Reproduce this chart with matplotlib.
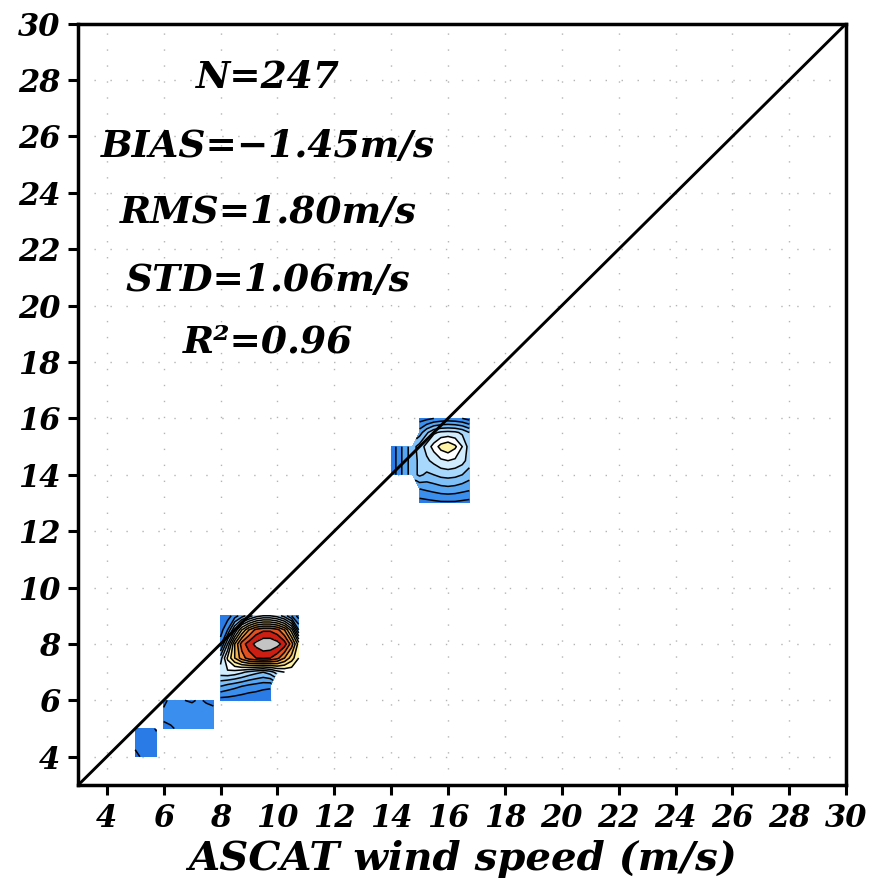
import numpy as np
import matplotlib
matplotlib.use('Agg')
import matplotlib.pyplot as plt

# stats printed in the upper-left corner
stat_lines = ['N=247', 'BIAS=\u22121.45m/s', 'RMS=1.80m/s', 'STD=1.06m/s', 'R\u00b2=0.96']
stat_y = [28.1, 25.65, 23.3, 20.9, 18.7]

ticks = list(range(4, 31, 2))

nan = np.nan

# density blocks (x step 0.25, y step 0.5)
b1_x = [5.0, 5.25, 5.5, 5.75]
b1_y = [4.0, 4.5, 5.0]
b1_z = [[0.8, 1.1, 1.3, 1.4],
        [1.2, 1.4, 1.5, 1.6],
        [1.4, 1.5, 1.7, 2.1]]

b2_x = [6.0, 6.25, 6.5, 6.75, 7.0, 7.25, 7.5, 7.75]
b2_y = [5.0, 5.5, 6.0]
b2_z = [[1.8, 1.9, 2.1, 2.3, 2.4, 2.4, 2.3, 2.2],
        [2.2, 2.3, 2.4, 2.5, 2.5, 2.5, 2.4, 2.3],
        [1.8, 2.2, 2.1, 2.0, 1.9, 2.1, 1.9, 1.8]]

b3_x = [8.0, 8.25, 8.5, 8.75, 9.0, 9.25, 9.5, 9.75, 10.0, 10.25, 10.5, 10.75]
b3_y = [6.0, 6.5, 7.0, 7.5, 8.0, 8.5, 9.0]
b3_z = [[1.5, 1.5, 1.4, 1.3, 1.2, 1.2, 1.1, 1.1, nan, nan, nan, nan],
        [4.0, 3.6, 3.3, 3.0, 2.7, 2.5, 2.3, 2.2, nan, nan, nan, nan],
        [6.6, 6.8, 6.6, 6.2, 5.7, 5.3, 5.0, 5.5, 6.5, 7.0, 7.2, 7.0],
        [5.5, 8.2, 10.0, 11.5, 12.5, 13.0, 13.2, 13.0, 12.3, 11.0, 9.5, 8.0],
        [2.5, 6.0, 10.0, 12.5, 13.5, 14.3, 14.8, 14.8, 14.4, 13.5, 11.5, 8.5],
        [1.5, 3.0, 6.0, 9.0, 11.0, 12.3, 12.8, 12.8, 12.3, 11.0, 8.5, 4.0],
        [1.0, 1.5, 2.5, 3.5, 4.5, 5.5, 6.0, 6.0, 5.5, 4.5, 3.0, 1.5]]

b4_x = [14.0, 14.25, 14.5, 14.75, 15.0, 15.25, 15.5, 15.75, 16.0, 16.25, 16.5, 16.75]
b4_y = [13.0, 13.5, 14.0, 14.5, 15.0, 15.5, 16.0]
b4_z = [[nan, nan, nan, nan, 1.5, 1.6, 1.7, 1.8, 1.8, 1.8, 1.7, 1.6],
        [nan, nan, nan, nan, 3.0, 3.2, 3.4, 3.6, 3.7, 3.6, 3.4, 3.2],
        [1.2, 2.4, 3.6, 4.6, 5.2, 4.8, 5.0, 5.3, 5.4, 5.3, 5.0, 4.5],
        [1.2, 2.4, 3.6, 4.6, 5.2, 5.8, 6.3, 6.8, 7.0, 6.8, 6.4, 5.5],
        [1.2, 2.4, 3.6, 4.6, 5.4, 6.4, 7.4, 8.4, 8.8, 8.2, 7.0, 5.5],
        [nan, nan, nan, nan, 3.5, 4.8, 5.8, 6.2, 6.3, 6.2, 5.8, 5.0],
        [nan, nan, nan, nan, 1.5, 1.7, 2.0, 2.2, 2.3, 2.2, 2.0, 1.6]]

levels = [0, 1, 2, 3, 4, 5, 6, 7, 8, 9, 10, 11, 12, 13, 14, 20]
colors = ['#2266dd', '#2b7be6', '#3a8eee', '#56a6f4', '#80c0f8', '#a8d8fb',
          '#d0ecfd', '#ffffff', '#fff3a8', '#fcd878', '#f6b24c', '#ee8432',
          '#e05020', '#cc1e12', '#c4c4c4']

font = dict(family='DejaVu Serif', weight='bold', style='italic')

fig = plt.figure(figsize=(8.71, 8.92), dpi=100)
ax = fig.add_axes([0.0899, 0.1200, 0.8816, 0.8535])

for bx, by, bz in [(b1_x, b1_y, b1_z), (b2_x, b2_y, b2_z),
                   (b3_x, b3_y, b3_z), (b4_x, b4_y, b4_z)]:
    z = np.ma.masked_invalid(np.array(bz))
    ax.contourf(bx, by, z, levels=levels, colors=colors, zorder=2)
    ax.contour(bx, by, z, levels=levels[1:-1], colors='black',
               linewidths=1.1, zorder=3)

ax.plot([3, 30], [3, 30], color='black', linewidth=2.1, zorder=4)

ax.set_xlim(3, 30)
ax.set_ylim(3, 30)
ax.set_xticks(ticks)
ax.set_yticks(ticks)
ax.set_xticklabels([str(t) for t in ticks], fontsize=22, **font)
ax.set_yticklabels([str(t) for t in ticks], fontsize=22, **font)
ax.tick_params(direction='out', length=7, width=2.2, pad=6)
for sp in ax.spines.values():
    sp.set_linewidth(2.5)

ax.grid(True, color='#b4b4b4', linewidth=1.0, linestyle=(0, (1, 10.5)), zorder=1)
ax.set_axisbelow(True)

for txt, yy in zip(stat_lines, stat_y):
    ax.text(9.67, yy, txt, ha='center', va='center', fontsize=27, zorder=5, **font)

ax.set_xlabel('ASCAT wind speed (m/s)', fontsize=29, labelpad=4, **font)

fig.savefig('out.png', dpi=100)
